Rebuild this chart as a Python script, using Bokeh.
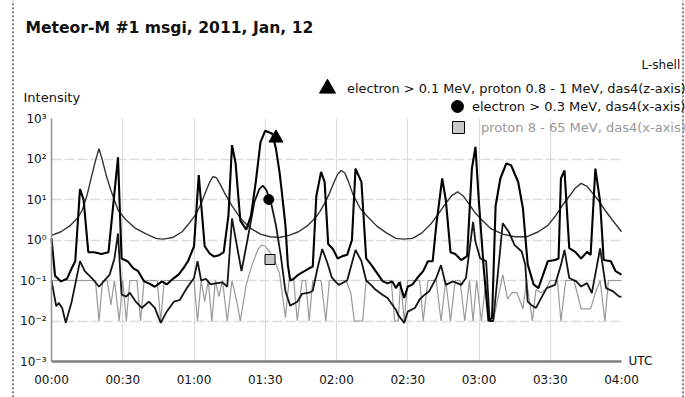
from bokeh.plotting import figure
from bokeh.models import FixedTicker, Label, Legend, LegendItem
from bokeh.embed import file_html
from bokeh.resources import INLINE

# ---------------- data (minutes after 00:00 UTC, intensity) ----------------
lshell = [(0, 1.3), (4, 1.6), (8, 2.3), (11, 3.5), (13, 5.5), (15, 13), (17, 40), (18.5, 90), (20, 180),
          (21.5, 90), (23, 40), (25, 17), (28, 5.5), (31, 3.3), (35, 2.0), (40, 1.4), (44, 1.1), (47, 1.05),
          (51, 1.15), (55, 1.6), (58, 2.6), (61, 4.5), (63, 8), (65, 16), (66.5, 26), (68, 37), (69.5, 34),
          (71, 24), (73, 14), (76, 7), (80, 3.2), (84, 1.9), (88, 1.4), (92, 1.2), (96, 1.15), (100, 1.3),
          (104, 1.6), (108, 2.3), (111, 3.5), (113, 5), (115, 8), (117, 14), (119, 27), (120.5, 42), (122, 52),
          (123.5, 45), (125, 28), (127, 13), (130, 6), (133, 3.8), (137, 2.2), (141, 1.5), (145, 1.1),
          (148, 1.05), (152, 1.1), (156, 1.5), (160, 2.6), (163, 4.5), (166, 8), (168.5, 12.5), (171, 15.5),
          (173.5, 12), (176, 7.5), (178, 5), (181, 3.2), (185, 1.9), (190, 1.4), (195, 1.2), (200, 1.2),
          (205, 1.6), (209, 2.3), (212, 3.8), (215, 7), (218, 12), (220.5, 19), (223, 25), (225.5, 21),
          (228, 14), (230, 10), (233, 5.5), (236, 3.2), (240, 1.6)]

electron_01 = [(0, 1.1), (1.5, 0.13), (4, 0.095), (6.5, 0.11), (8.5, 0.2), (10, 0.3), (12, 18), (13.5, 10),
               (15.5, 0.5), (18, 0.5), (21, 0.45), (24, 0.5), (28, 110), (29.5, 0.35), (32, 0.3), (34.5, 0.2),
               (36.5, 0.17), (39, 0.095), (41, 0.085), (43.5, 0.07), (46.5, 0.095), (48.5, 0.08), (51.5, 0.115),
               (53.5, 0.14), (55.5, 0.2), (57.5, 0.3), (60, 0.7), (62, 40), (64.5, 0.7), (66.5, 0.47),
               (68.5, 0.39), (70.5, 0.42), (72.5, 0.5), (74.5, 4), (76, 220), (77.5, 80), (79.5, 3), (82, 1.8),
               (84, 4), (86, 27), (88, 260), (90, 500), (93, 420), (94.5, 180), (96, 48), (97, 15), (98.5, 2.3),
               (99.5, 0.25), (100.5, 0.1), (102, 0.11), (104, 0.14), (106.5, 0.17), (108.5, 0.2), (110, 0.22),
               (111.5, 12), (113.5, 48), (115, 27), (116.5, 0.8), (118.5, 0.6), (120.5, 0.35), (122.5, 0.4),
               (124.5, 0.43), (126.5, 1.0), (128, 58), (130.5, 27), (132.5, 0.35), (134.5, 0.25), (136.5, 0.17),
               (139.5, 0.095), (141.5, 0.085), (143.5, 0.095), (145, 0.065), (146.5, 0.09), (148.5, 0.037),
               (150, 0.07), (152, 0.08), (154, 0.115), (156.5, 0.17), (158.5, 0.3), (160.5, 0.3), (162, 2.3),
               (164.5, 33), (166, 10), (168, 0.5), (170, 0.45), (172.5, 0.32), (175, 0.4), (177, 58),
               (178.5, 200), (180, 8), (182, 0.2), (184, 0.01), (185.5, 0.012), (187, 7), (189, 33), (191.5, 78),
               (193.5, 70), (196.5, 27), (198.5, 6), (200.5, 0.25), (203, 0.08), (205, 0.065), (207, 0.14),
               (209, 0.3), (212, 0.32), (213.5, 0.35), (214.5, 33), (216, 52), (218, 0.63), (220.5, 0.51),
               (223, 0.35), (225.5, 0.51), (227, 0.43), (229, 58), (231, 8.7), (232.5, 0.32), (235.5, 0.3),
               (237.5, 0.17), (240, 0.14)]

electron_03 = [(0, 0.1), (2, 0.023), (3, 0.028), (4.5, 0.021), (6, 0.009), (8.5, 0.03), (12, 0.3), (14, 0.17),
               (17, 0.115), (20, 0.07), (22, 0.095), (24.5, 0.14), (26.5, 0.35), (28, 1.45), (29.5, 0.045),
               (31.5, 0.04), (33, 0.05), (35.5, 0.03), (38, 0.021), (41, 0.03), (43.5, 0.021), (46, 0.009),
               (48.5, 0.017), (51.5, 0.03), (54, 0.033), (57, 0.065), (60, 0.115), (61.5, 0.3), (63, 0.1),
               (65, 0.11), (67, 0.08), (69, 0.085), (72, 0.09), (74, 0.07), (76, 3.4), (80, 0.17), (82.5, 1.0),
               (85.5, 9), (87.5, 18), (89, 22), (90.5, 17), (92.5, 8), (94.5, 2.3), (96.5, 0.43), (98.5, 0.054),
               (100.5, 0.024), (103.5, 0.03), (105.5, 0.047), (108.5, 0.05), (110, 0.056), (112, 0.2),
               (114, 0.6), (116, 0.29), (118, 0.12), (119.5, 0.095), (121, 0.078), (124.5, 0.1), (128, 0.57),
               (130.5, 0.3), (132.5, 0.1), (134.5, 0.078), (136.5, 0.059), (139.5, 0.044), (141.5, 0.037),
               (145, 0.019), (146, 0.014), (148.5, 0.009), (150, 0.017), (153, 0.021), (155, 0.034),
               (157, 0.044), (159, 0.054), (162, 0.115), (164, 0.24), (166, 0.078), (169, 0.095), (172.5, 0.078),
               (174.5, 0.115), (177.5, 2.8), (178.5, 0.9), (180.5, 0.35), (183, 0.3), (184.5, 0.01), (186, 0.01),
               (190, 2.6), (192.5, 1.6), (195, 0.75), (198, 0.52), (199.5, 0.24), (200.5, 0.03), (202, 0.025),
               (204, 0.021), (206.5, 0.04), (208.5, 0.065), (212, 0.078), (214.5, 0.24), (216, 0.57),
               (218, 0.115), (221, 0.095), (223, 0.071), (225.5, 0.086), (227.5, 0.049), (231, 0.62),
               (233.5, 0.065), (236.5, 0.054), (239, 0.04), (240, 0.04)]

proton = [(0, 0.1), (18.5, 0.1), (20, 0.01), (21.5, 0.1), (23.5, 0.1), (25, 0.025), (26.5, 0.1), (28.5, 0.01),
          (30, 0.1), (31.5, 0.01), (33, 0.1), (36, 0.1), (37.5, 0.01), (39, 0.1), (44.5, 0.1), (46, 0.01),
          (47.5, 0.1), (60, 0.1), (61.5, 0.01), (63, 0.1), (64.5, 0.03), (66, 0.1), (67.5, 0.01), (69, 0.1),
          (70.5, 0.04), (72, 0.1), (74, 0.01), (76, 0.1), (78, 0.03), (79.5, 0.01), (82, 0.08), (84.5, 0.25),
          (87, 0.6), (88.5, 0.75), (90, 0.7), (92, 0.5), (94, 0.3), (96, 0.15), (98.5, 0.012), (100, 0.1),
          (102, 0.1), (103.5, 0.01), (105.5, 0.1), (107, 0.1), (108.5, 0.01), (110, 0.1), (113.5, 0.1),
          (115.5, 0.01), (117, 0.1), (124, 0.1), (126, 0.05), (127.5, 0.01), (131, 0.01), (132.5, 0.1),
          (143, 0.1), (144.5, 0.01), (146, 0.01), (147, 0.1), (148.5, 0.01), (150, 0.1), (155, 0.1),
          (156.5, 0.01), (158.5, 0.1), (162, 0.1), (164, 0.01), (166, 0.1), (168, 0.01), (170, 0.1),
          (172, 0.1), (174, 0.01), (176, 0.1), (177.5, 0.01), (179, 0.1), (181, 0.01), (183, 0.1),
          (184.5, 0.01), (186, 0.01), (190, 0.14), (192, 0.035), (194, 0.05), (196, 0.05), (198.5, 0.02),
          (200, 0.1), (202.5, 0.01), (204, 0.06), (206, 0.05), (208, 0.06), (210, 0.1), (213, 0.1),
          (214.5, 0.01), (216.5, 0.1), (220, 0.1), (223, 0.02), (225, 0.02), (227, 0.02), (229, 0.05),
          (231, 0.1), (233, 0.01), (234.5, 0.1), (240, 0.1)]

# series marker positions (minute, intensity)
marker_tri = (94.5, 330)
marker_circle = (91.5, 10)
marker_square = (92, 0.33)

x_ticks = [0, 30, 60, 90, 120, 150, 180, 210, 240]
x_tick_labels = ["00:00", "00:30", "01:00", "01:30", "02:00", "02:30", "03:00", "03:30", "04:00"]
y_ticks = [1e-3, 1e-2, 1e-1, 1, 10, 100, 1000]
y_tick_labels = ["10\u207b\u00b3", "10\u207b\u00b2", "10\u207b\u00b9", "10\u2070", "10\u00b9", "10\u00b2", "10\u00b3"]

title_text = "Meteor-M #1 msgi, 2011, Jan, 12"
label_e01 = "electron > 0.1 MeV, proton 0.8 - 1 MeV, das4(z-axis)"
label_e03 = "electron > 0.3 MeV, das4(x-axis)"
label_p = "proton 8 - 65 MeV, das4(x-axis)"
label_l = "L-shell"

FONT = "DejaVu Sans"

# ---------------- layout geometry (pixels) ----------------
W, H = 685, 397
PX_LEFT, PX_RIGHT = 51, 621      # where 00:00 and 04:00 sit
PX_TOP, PX_BOT = 118, 361        # where 10^3 and 10^-3 sit
ppm = (PX_RIGHT - PX_LEFT) / 240.0
ppd = (PX_BOT - PX_TOP) / 6.0
x_lo = -PX_LEFT / ppm
x_hi = (W - PX_LEFT) / ppm
y_lo = 10 ** (-3 - (H - PX_BOT) / ppd)
y_hi = 10 ** (3 + PX_TOP / ppd)

p = figure(width=W, height=H, output_backend="svg", toolbar_location=None,
           x_range=(x_lo, x_hi), y_range=(y_lo, y_hi), y_axis_type="log",
           min_border=0, min_border_left=0, min_border_right=0, min_border_top=0, min_border_bottom=0,
           title=None)
p.outline_line_color = None
p.background_fill_color = "white"
p.border_fill_color = "white"

# axes (fixed inside the frame)
xa = p.xaxis[0]
ya = p.yaxis[0]
xa.fixed_location = 1e-3
ya.fixed_location = 0
xa.bounds = (0, 240)
ya.bounds = (1e-3, 1e3)
xa.ticker = FixedTicker(ticks=x_ticks)
xa.major_label_overrides = dict(zip(x_ticks, x_tick_labels))
ya.ticker = FixedTicker(ticks=y_ticks)
ya.major_label_overrides = dict(zip(y_ticks, y_tick_labels))
for ax in (xa, ya):
    ax.major_tick_line_color = None
    ax.minor_tick_line_color = None
    ax.major_tick_out = 0
    ax.major_tick_in = 0
    ax.major_label_text_font = FONT
    ax.major_label_text_font_size = "12px"
    ax.major_label_text_color = "#111111"
xa.axis_line_color = "#808080"
xa.axis_line_width = 2.5
xa.major_label_standoff = 11
ya.axis_line_color = "#909090"
ya.axis_line_width = 1.5
ya.major_label_standoff = 5

# grid
xg = p.xgrid[0]
yg = p.ygrid[0]
xg.ticker = FixedTicker(ticks=x_ticks[1:-1])
yg.ticker = FixedTicker(ticks=y_ticks[1:-1])
if "cross_bounds" in xg.properties():
    xg.cross_bounds = (1e-3, 1e3)
    yg.cross_bounds = (0, 240)
    xg.grid_line_color = "#dcdcdc"
    yg.grid_line_color = "#dcdcdc"
    yg.grid_line_width = 1.3
    yg.grid_line_dash = "10 3"
else:
    xg.visible = False
    yg.visible = False
    gx = x_ticks[1:-1]
    gy = y_ticks[1:-1]
    p.segment(x0=gx, y0=[1e-3] * len(gx), x1=gx, y1=[1e3] * len(gx), line_color="#dcdcdc", line_width=1)
    p.segment(x0=[0] * len(gy), y0=gy, x1=[240] * len(gy), y1=gy, line_color="#dcdcdc",
              line_width=1.3, line_dash="10 3")

# dotted edges of the original picture (pixel columns converted to the x scale)
for px_edge in (12.5, 682.5):
    xe = (px_edge - PX_LEFT) / ppm
    p.line([xe, xe], [y_lo * 1.01, y_hi * 0.99], line_color="#000000", line_width=1, line_dash="2 2")

def unzip(pairs):
    return [a for a, b in pairs], [b for a, b in pairs]

pt, pv = unzip(proton)
p.line(pt, pv, line_color="#999999", line_width=1.2)
lt, lv = unzip(lshell)
p.line(lt, lv, line_color="#333333", line_width=1.4)
t3, v3 = unzip(electron_03)
p.line(t3, v3, line_color="#151515", line_width=1.8)
t1, v1 = unzip(electron_01)
p.line(t1, v1, line_color="#000000", line_width=2.1)

r_tri = p.scatter([marker_tri[0]], [marker_tri[1]], marker="triangle", size=14,
                  fill_color="black", line_color="black")
r_cir = p.scatter([marker_circle[0]], [marker_circle[1]], marker="circle", size=10,
                  fill_color="black", line_color="black")
r_sq = p.scatter([marker_square[0]], [marker_square[1]], marker="square", size=10,
                 fill_color="#c8c8c8", line_color="black", line_width=1)

def make_legend(label, renderer, box, loc, standoff, color, size="13px"):
    lg = Legend(items=[LegendItem(label=label, renderers=[renderer])], location=loc,
                glyph_width=box, glyph_height=box, label_standoff=standoff,
                padding=0, margin=0, spacing=0, border_line_color=None,
                background_fill_alpha=0, label_text_font=FONT, label_text_font_size=size,
                label_text_color=color, label_height=box, label_width=10)
    p.add_layout(lg)

make_legend(label_e01, r_tri, 40, (307, 289), 0, "#111111", "12.9px")
make_legend(label_e03, r_cir, 30, (442, 276), 0, "#111111")
make_legend(label_p, r_sq, 30, (443, 255), 8, "#999999")

def add_label(text, x, y, size, bold=False, color="#111111"):
    p.add_layout(Label(x=x, y=y, x_units="screen", y_units="screen", text=text,
                       text_font=FONT, text_font_size=size, text_baseline="middle",
                       text_font_style="bold" if bold else "normal", text_color=color))

add_label(title_text, 25, 370, "15.6px", bold=True)
add_label("Intensity", 23, 300, "13px")
add_label("UTC", 628, 37, "12px")
add_label(label_l, 641, 333, "12px")

open("out.html", "w").write(file_html(p, INLINE))
